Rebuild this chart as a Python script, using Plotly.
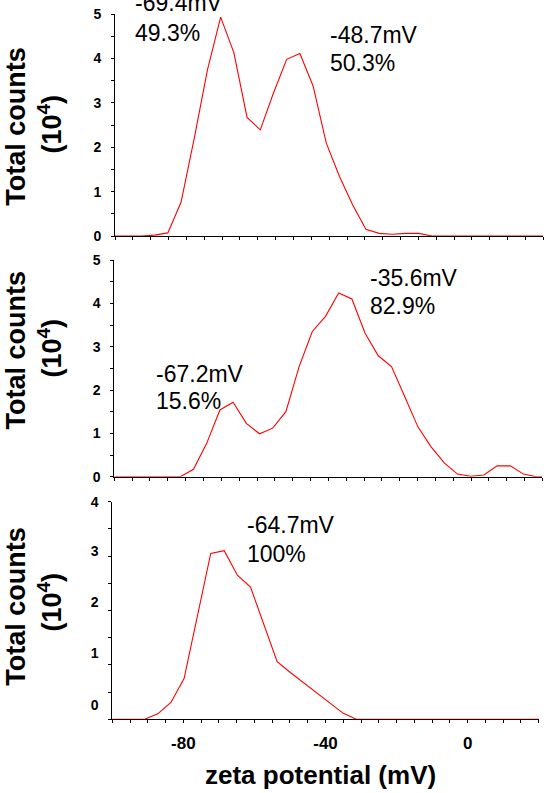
import plotly.graph_objects as go

W, H = 546, 793

# ---------------- data ----------------
x_top = [-100.0, -96.3, -92.6, -88.9, -85.2, -81.5, -77.8, -74.1, -70.4, -66.7,
         -63.0, -59.3, -55.6, -51.9, -48.2, -44.5, -40.8, -37.1, -33.4, -29.7,
         -26.0, -22.3, -18.6, -14.9, -11.2, -7.5, -3.8, -0.1, 3.6, 7.3,
         11.0, 14.7, 18.4, 20.0]
y_top = [0, 0, 0, 0.02, 0.07, 0.76, 2.2, 3.74, 4.93, 4.13,
         2.67, 2.39, 3.22, 3.98, 4.11, 3.38, 2.09, 1.34, 0.70, 0.15,
         0.06, 0.04, 0.06, 0.06, 0, 0, 0, 0, 0, 0,
         0, 0, 0, 0]

x_mid = x_top
y_mid = [0, 0, 0, 0, 0, 0, 0.17, 0.77, 1.54, 1.72,
         1.23, 0.99, 1.12, 1.50, 2.54, 3.35, 3.70, 4.24, 4.10, 3.31,
         2.79, 2.54, 1.85, 1.15, 0.69, 0.32, 0.06, 0.01, 0.04, 0.25,
         0.25, 0.06, 0, 0]

x_bot = [-100.0, -98.2, -94.7, -90.9, -87.2, -83.5, -79.8, -76.0, -72.3, -68.5,
         -64.8, -61.1, -57.4, -53.6, -49.9, -46.2, -42.4, -38.7, -35.0, -31.3,
         -27.6, -20.0, -10.0, 0.0, 10.0, 20.0]
y_bot = [0, 0, 0, 0, 0.10, 0.31, 0.75, 1.90, 3.05, 3.10,
         2.65, 2.43, 1.75, 1.06, 0.86, 0.67, 0.48, 0.29, 0.11, 0,
         0, 0, 0, 0, 0, 0]

yticks_top = [0, 1, 2, 3, 4, 5]
yticks_mid = [0, 1, 2, 3, 4, 5]
ytext_bot = ["0", "1", "2", "3", "4"]
# in the source the lower panel's labels sit slightly off its tick marks
ytickpos_bot = [0.26, 1.21, 2.15, 3.09, 3.998]
xticks = [-80, -40, 0]

peak_labels = [
    # (panel, mV text, percent text, left px, line1 y px, line2 y px)
    (1, "-69.4mV", "49.3%", 133.4, 3.0, 32.5),
    (1, "-48.7mV", "50.3%", 328.3, 35.0, 63.4),
    (2, "-67.2mV", "15.6%", 154.0, 374.0, 401.5),
    (2, "-35.6mV", "82.9%", 368.3, 278.3, 305.5),
    (3, "-64.7mV", "100%", 244.5, 525.0, 554.0),
]

# ---------------- layout helpers ----------------
FONT = "Liberation Sans, Arial, sans-serif"

def px_x(p):
    return p / W

def px_y(p):
    return 1 - p / H

panels = {
    1: dict(x0=115.0, x1=543.3, ytop=14.0, ybot=236.0, yr=[0, 5],
            yt=yticks_top, ytt=[str(v) for v in yticks_top], major=True),
    2: dict(x0=114.3, x1=542.4, ytop=260.0, ybot=476.7, yr=[0, 5],
            yt=yticks_mid, ytt=[str(v) for v in yticks_mid], major=True),
    3: dict(x0=112.3, x1=538.7, ytop=501.7, ybot=719.3, yr=[0, 4],
            yt=ytickpos_bot, ytt=ytext_bot, major=False),
}
series = {1: (x_top, y_top), 2: (x_mid, y_mid), 3: (x_bot, y_bot)}

fig = go.Figure()
layout = dict(
    template="none",
    width=W, height=H,
    margin=dict(l=0, r=0, t=0, b=0, pad=0, autoexpand=False),
    paper_bgcolor="white", plot_bgcolor="white",
    showlegend=False,
)

TL = 3
for i, p in panels.items():
    sfx = "" if i == 1 else str(i)
    osfx = str(i + 3)
    xs, ys = series[i]
    fig.add_trace(go.Scatter(
        x=xs, y=ys, mode="lines",
        line=dict(color="#ff0000", width=1.1),
        xaxis="x" + sfx, yaxis="y" + sfx, hoverinfo="skip",
    ))
    if i == 3:
        xtt = [str(v) for v in xticks]
    else:
        xtt = [" " for v in xticks]
    xdom = [px_x(p["x0"]), px_x(p["x1"])]
    ydom = [px_y(p["ybot"]), px_y(p["ytop"])]
    layout["xaxis" + sfx] = dict(
        domain=xdom, anchor="y" + sfx, range=[-100, 20],
        automargin=False, showgrid=False, zeroline=False,
        showline=True, linecolor="black", linewidth=1,
        layer="below traces",
        tickmode="array", tickvals=xticks, ticktext=xtt,
        ticks="outside", ticklen=TL, tickcolor="black", tickwidth=1,
        minor=dict(dtick=5, tick0=0, ticks="outside", ticklen=TL,
                   tickcolor="black", tickwidth=1),
        tickfont=dict(family=FONT, size=17, color="black", weight="bold"),
        ticklabelstandoff=5,
        fixedrange=True,
    )
    layout["yaxis" + sfx] = dict(
        domain=ydom, anchor="x" + sfx, range=p["yr"],
        automargin=False, showgrid=False, zeroline=False,
        showline=True, linecolor="black", linewidth=1,
        layer="below traces",
        tickmode="array", tickvals=p["yt"], ticktext=p["ytt"],
        ticks="outside" if p["major"] else "", ticklen=TL,
        tickcolor="black", tickwidth=1,
        minor=dict(dtick=0.5, tick0=0, ticks="outside", ticklen=TL,
                   tickcolor="black", tickwidth=1),
        tickfont=dict(family=FONT, size=14, color="black", weight="bold"),
        ticklabelstandoff=7 if p["major"] else 7 + TL,
        fixedrange=True,
    )
    # overlay axes give the inner half of the crossing tick marks
    layout["xaxis" + osfx] = dict(
        domain=xdom, anchor="y" + sfx, overlaying="x" + sfx, range=[-100, 20],
        automargin=False, showgrid=False, zeroline=False, showline=False,
        showticklabels=False, tickmode="linear", tick0=0, dtick=5,
        ticks="inside", ticklen=TL, tickcolor="black", tickwidth=1,
        layer="below traces", fixedrange=True,
    )
    layout["yaxis" + osfx] = dict(
        domain=ydom, anchor="x" + sfx, overlaying="y" + sfx, range=p["yr"],
        automargin=False, showgrid=False, zeroline=False, showline=False,
        showticklabels=False, tickmode="linear", tick0=0, dtick=0.5,
        ticks="inside", ticklen=TL, tickcolor="black", tickwidth=1,
        layer="below traces", fixedrange=True,
    )

annotations = []
ytitle_pos = {1: (15.7, 49.6, 126.0, 124.0), 2: (15.7, 49.6, 349.8, 348.0),
              3: (15.7, 49.6, 606.0, 602.0)}
for i, (xa, xb, ya, yb) in ytitle_pos.items():
    annotations.append(dict(text="<b>Total counts</b>", x=px_x(xa), y=px_y(ya),
                            xref="paper", yref="paper", textangle=-90,
                            xanchor="center", yanchor="middle", showarrow=False,
                            font=dict(family=FONT, size=27, color="black")))
    annotations.append(dict(text="<b>(10<sup>4</sup>)</b>", x=px_x(xb), y=px_y(yb),
                            xref="paper", yref="paper", textangle=-90,
                            xanchor="center", yanchor="middle", showarrow=False,
                            font=dict(family=FONT, size=27, color="black")))

for (pn, t1, t2, lx, y1, y2) in peak_labels:
    for t, yy in ((t1, y1), (t2, y2)):
        annotations.append(dict(text=t, x=px_x(lx), y=px_y(yy),
                                xref="paper", yref="paper",
                                xanchor="left", yanchor="middle", showarrow=False,
                                font=dict(family=FONT, size=23, color="black")))

annotations.append(dict(text="<b>zeta potential (mV)</b>", x=px_x(320.5), y=px_y(775),
                        xref="paper", yref="paper", xanchor="center", yanchor="middle",
                        showarrow=False, font=dict(family=FONT, size=26, color="black")))

layout["annotations"] = annotations
fig.update_layout(**layout)
fig.write_html("out.html",
               config={"displayModeBar": False},
               post_script="document.body.style.margin='0';"
                           "document.body.style.overflow='hidden';")
